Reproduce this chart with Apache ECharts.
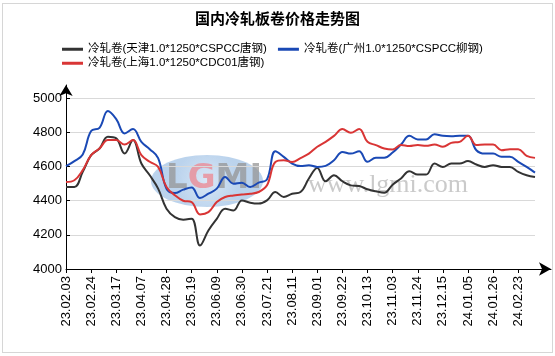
<!DOCTYPE html>
<html>
<head>
<meta charset="utf-8">
<script src="https://cdn.jsdelivr.net/npm/echarts@6/dist/echarts.min.js"></script>
<style>
html,body{margin:0;padding:0;background:#fff;}
#frame{position:absolute;left:2px;top:3px;width:549px;height:348px;border:1px solid #d6d6d6;}
#chart{position:absolute;left:0;top:0;width:555px;height:356px;}
</style>
</head>
<body>
<div id="frame"></div>
<div id="chart"></div>
<script>
// weekly categories (Spring Festival week 24.02.16 absent)
var categories = [
  '23.02.03','23.02.10','23.02.17','23.02.24','23.03.03','23.03.10','23.03.17','23.03.24','23.03.31',
  '23.04.07','23.04.14','23.04.21','23.04.28','23.05.05','23.05.12','23.05.19','23.05.26',
  '23.06.02','23.06.09','23.06.16','23.06.23','23.06.30','23.07.07','23.07.14','23.07.21','23.07.28',
  '23.08.04','23.08.11','23.08.18','23.08.25','23.09.01','23.09.08','23.09.15','23.09.22','23.09.29',
  '23.10.06','23.10.13','23.10.20','23.10.27','23.11.03','23.11.10','23.11.17','23.11.24',
  '23.12.01','23.12.08','23.12.15','23.12.22','23.12.29','24.01.05','24.01.12','24.01.19','24.01.26',
  '24.02.02','24.02.09','24.02.23','24.03.01','24.03.08'
];
var tickLabels = ['23.02.03','23.02.24','23.03.17','23.04.07','23.04.28','23.05.19','23.06.09','23.06.30',
  '23.07.21','23.08.11','23.09.01','23.09.22','23.10.13','23.11.03','23.11.24','23.12.15','24.01.05',
  '24.01.26','24.02.23'];
var yTicks = [4000, 4200, 4400, 4600, 4800, 5000];

var nameTianjin = '冷轧卷(天津1.0*1250*CSPCC唐钢)';
var nameGuangzhou = '冷轧卷(广州1.0*1250*CSPCC柳钢)';
var nameShanghai = '冷轧卷(上海1.0*1250*CDC01唐钢)';

var tianjin = [4481,4481,4569,4667,4706,4775,4765,4677,4755,4618,4549,4471,4353,4304,4289,4295,4138,
  4226,4294,4353,4343,4402,4388,4383,4402,4451,4422,4441,4451,4530,4592,4514,4549,4514,4490,4486,
  4467,4455,4447,4494,4530,4573,4553,4553,4618,4598,4618,4618,4632,4612,4598,4608,4598,4598,4569,4549,4539];
var guangzhou = [4602,4632,4671,4808,4827,4925,4878,4794,4820,4745,4702,4650,4470,4445,4465,4478,4416,
  4441,4471,4539,4500,4506,4480,4506,4525,4690,4657,4618,4603,4608,4598,4604,4637,4686,4676,4690,
  4628,4651,4651,4682,4729,4780,4759,4759,4790,4780,4778,4780,4780,4696,4676,4676,4657,4657,4628,4598,4565];
var shanghai = [4510,4520,4579,4667,4706,4755,4755,4729,4755,4667,4628,4598,4481,4432,4400,4392,4320,
  4333,4392,4422,4431,4437,4441,4451,4490,4627,4637,4627,4650,4676,4716,4745,4780,4820,4798,4820,
  4745,4726,4706,4700,4726,4720,4726,4722,4729,4716,4739,4745,4780,4726,4729,4729,4696,4702,4702,4663,4651];

var FONT = "'Liberation Sans', 'Noto Sans CJK SC', sans-serif";
var chart = echarts.init(document.getElementById('chart'), null, {renderer: 'canvas'});

var option = {
  animation: false,
  backgroundColor: 'transparent',
  title: {
    text: '国内冷轧板卷价格走势图',
    left: 'center', top: 11, padding: 0,
    textStyle: {fontFamily: "'Noto Sans CJK SC', sans-serif", fontSize: 15, fontWeight: 'bold', color: '#000'}
  },
  legend: [
    {
      data: [nameTianjin, nameGuangzhou], padding: 0,
      left: 62, top: 43.5, itemWidth: 21, itemHeight: 3, itemGap: 11, icon: 'rect',
      textStyle: {fontFamily: FONT, fontSize: 11.5, color: '#000'}
    },
    {
      data: [nameShanghai], padding: 0,
      left: 62, top: 57.5, itemWidth: 21, itemHeight: 3, itemGap: 11, icon: 'rect',
      textStyle: {fontFamily: FONT, fontSize: 11.5, color: '#000'}
    }
  ],
  graphic: [
    {
      type: 'ellipse', z: 0, silent: true,
      shape: {cx: 207, cy: 181, rx: 56, ry: 26},
      style: {fill: new echarts.graphic.RadialGradient(0.5, 0.5, 0.6, [
        {offset: 0, color: 'rgba(214,230,246,0.9)'},
        {offset: 1, color: 'rgba(170,200,232,0.8)'}
      ])}
    },
    {
      type: 'text', z: 0, silent: true, left: 166, top: 162,
      style: {
        text: '{a|L}{b|G}{a|MI}',
        rich: {
          a: {fontFamily: "'DejaVu Sans', sans-serif", fontSize: 34, fontWeight: 'bold', fill: 'rgba(150,150,150,0.75)'},
          b: {fontFamily: "'DejaVu Sans', sans-serif", fontSize: 34, fontWeight: 'bold', fill: 'rgba(235,140,150,0.8)'}
        }
      }
    },
    {
      type: 'text', z: 0, silent: true, left: 308, top: 172,
      style: {text: 'www.lgmi.com', fontFamily: "'Liberation Serif', serif", fontSize: 26, fill: 'rgba(180,180,180,0.7)'}
    }
  ],
  grid: [
    {left: 66, right: 20, top: 98.3, bottom: 87, containLabel: false},
    {left: 66, right: 4, top: 85, bottom: 87, containLabel: false}
  ],
  xAxis: [
    {
      gridIndex: 0, type: 'category', data: categories, boundaryGap: false,
      axisLine: {show: false},
      axisTick: {show: true, interval: 2, length: 4, lineStyle: {color: '#000'}},
      axisLabel: {
        show: true, interval: 2, rotate: 90, margin: 7, padding: [0, 0, 4, 0],
        fontFamily: FONT, fontSize: 13, color: '#000',
        formatter: function (v, i) { return tickLabels[Math.round(i / 3)] || v; }
      },
      splitLine: {show: false}
    },
    {
      gridIndex: 1, type: 'value', min: 0, max: 1,
      axisLine: {show: true, symbol: ['none', 'arrow'], symbolSize: [10, 12], lineStyle: {color: '#000', width: 1}},
      axisTick: {show: false}, axisLabel: {show: false}, splitLine: {show: false}
    }
  ],
  yAxis: [
    {
      gridIndex: 0, type: 'value', min: yTicks[0], max: yTicks[yTicks.length - 1], interval: 200,
      axisLine: {show: false},
      axisTick: {show: true, inside: true, length: 4, lineStyle: {color: '#000'}},
      axisLabel: {margin: 4, fontFamily: FONT, fontSize: 13, color: '#000', formatter: function (v) { return String(v); }},
      splitLine: {show: true, lineStyle: {color: '#d9d9d9', width: 1}}
    },
    {
      gridIndex: 1, type: 'value', min: 0, max: 1,
      axisLine: {show: true, symbol: ['none', 'arrow'], symbolSize: [10, 11], lineStyle: {color: '#000', width: 1}},
      axisTick: {show: false}, axisLabel: {show: false}, splitLine: {show: false}
    }
  ],
  series: [
    {
      name: nameTianjin, type: 'line', xAxisIndex: 0, yAxisIndex: 0, data: tianjin,
      smooth: 0.4, showSymbol: false, symbol: 'none', z: 3,
      lineStyle: {color: '#333333', width: 2}, itemStyle: {color: '#333333'}
    },
    {
      name: nameGuangzhou, type: 'line', xAxisIndex: 0, yAxisIndex: 0, data: guangzhou,
      smooth: 0.4, showSymbol: false, symbol: 'none', z: 3,
      lineStyle: {color: '#1a49b5', width: 2}, itemStyle: {color: '#1a49b5'}
    },
    {
      name: nameShanghai, type: 'line', xAxisIndex: 0, yAxisIndex: 0, data: shanghai,
      smooth: 0.4, showSymbol: false, symbol: 'none', z: 3,
      lineStyle: {color: '#d93535', width: 2}, itemStyle: {color: '#d93535'}
    }
  ]
};
chart.setOption(option);
</script>
</body>
</html>
